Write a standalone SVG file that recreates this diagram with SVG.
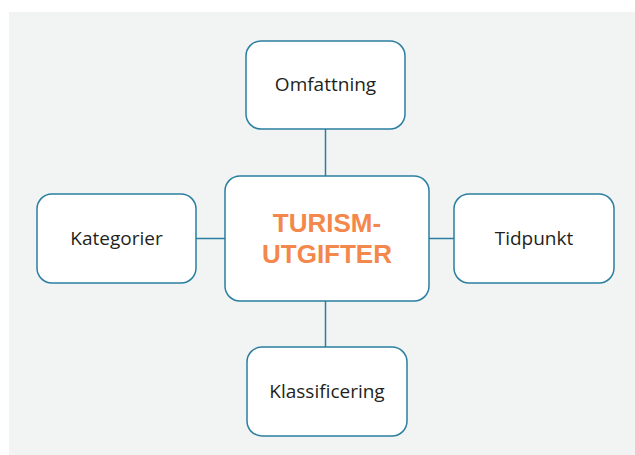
<svg xmlns="http://www.w3.org/2000/svg" width="635" height="455" viewBox="0 0 635 455">
<style>
.node{fill:#ffffff;stroke:#2a7fa0;stroke-width:1.5}
.lbl{font-family:"Open Sans","Liberation Sans",sans-serif;font-size:19px;fill:#231f20;text-anchor:middle}
.ttl{font-family:"Liberation Sans","Open Sans",sans-serif;font-size:26px;font-weight:bold;fill:#f4874b;text-anchor:middle}
.conn{stroke:#2a7fa0;stroke-width:1.5;fill:none}
</style>
<rect x="9" y="12" width="626" height="443" fill="#f2f3f3"/>
<g id="connectors">
<line class="conn" x1="325.5" y1="129" x2="325.5" y2="176"/>
<line class="conn" x1="325.5" y1="301" x2="325.5" y2="347"/>
<line class="conn" x1="196" y1="238.5" x2="225" y2="238.5"/>
<line class="conn" x1="429" y1="238.5" x2="454" y2="238.5"/>
</g>
<g id="center">
<rect class="node" x="225" y="176" width="204" height="125" rx="15"/>
<text class="ttl" x="327" y="232">TURISM-</text>
<text class="ttl" x="327" y="263">UTGIFTER</text>
</g>
<g id="omfattning">
<rect class="node" x="246" y="41" width="159" height="88" rx="15"/>
<text class="lbl" x="325.5" y="91">Omfattning</text>
</g>
<g id="kategorier">
<rect class="node" x="37" y="194" width="159" height="89" rx="15"/>
<text class="lbl" x="116.5" y="245">Kategorier</text>
</g>
<g id="tidpunkt">
<rect class="node" x="454" y="194" width="160" height="89" rx="15"/>
<text class="lbl" x="534" y="245">Tidpunkt</text>
</g>
<g id="klassificering">
<rect class="node" x="247" y="347" width="160" height="89" rx="15"/>
<text class="lbl" x="327" y="398">Klassificering</text>
</g>
</svg>
